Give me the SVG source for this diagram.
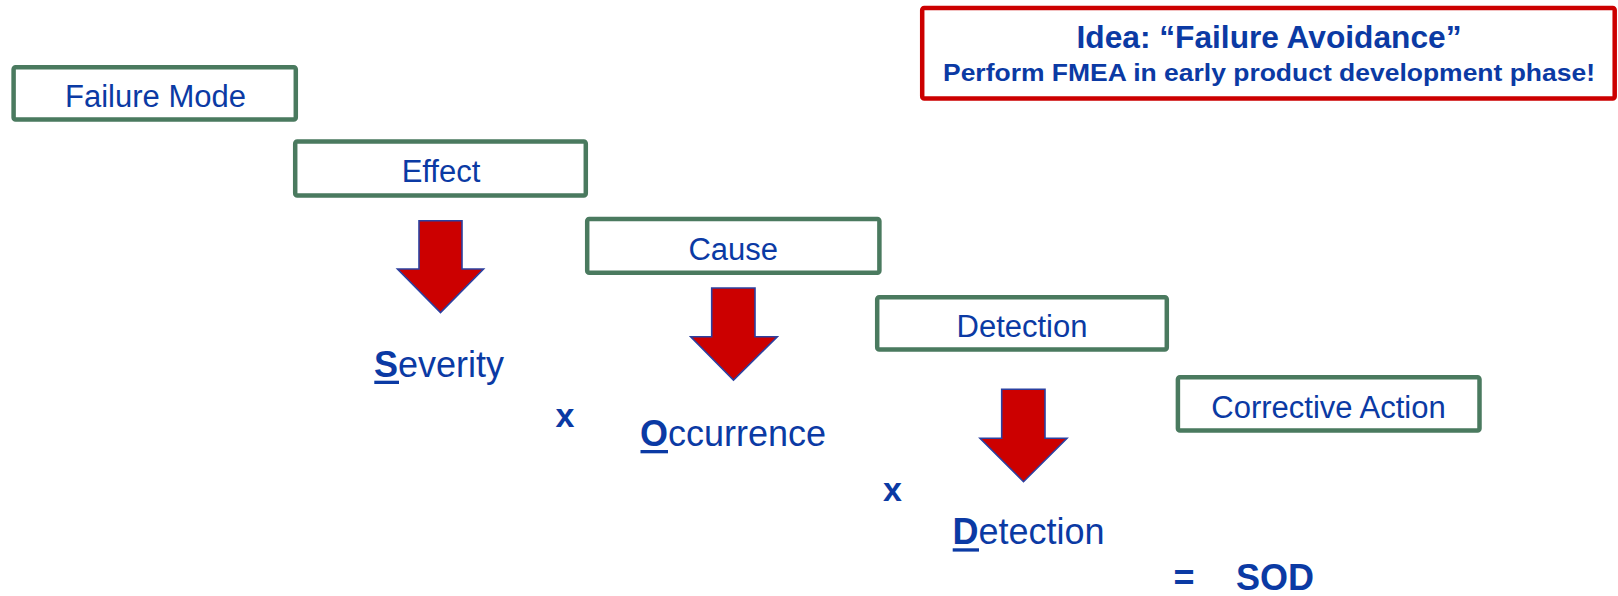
<svg xmlns="http://www.w3.org/2000/svg" width="1618" height="596" viewBox="0 0 1618 596">
  <style>
    .box { fill: #ffffff; stroke: #4a7a5f; stroke-width: 4.5; }
    .lbl { font-family: "Liberation Sans", Arial, sans-serif; font-size: 31px; fill: #0b3aa4; text-anchor: middle; }
    .big { font-family: "Liberation Sans", Arial, sans-serif; font-size: 36px; fill: #0b3aa4; }
    .op { font-family: "Liberation Sans", Arial, sans-serif; font-weight: bold; fill: #0b3aa4; }
    .arrow { fill: #cc0000; stroke: #2b40a0; stroke-width: 1.6; stroke-linejoin: miter; }
    .idea { fill: #ffffff; stroke: #cc0000; stroke-width: 4.5; }
    .ideat { font-family: "Liberation Sans", Arial, sans-serif; font-weight: bold; fill: #0b3aa4; text-anchor: middle; }
    .ul { fill: #0b3aa4; }
  </style>

  <g id="idea">
    <rect class="idea" x="922.2" y="8" width="692.5" height="90.5" rx="2"/>
    <text class="ideat" x="1269" y="48.3" font-size="30.5" textLength="385" lengthAdjust="spacingAndGlyphs">Idea: “Failure Avoidance”</text>
    <text class="ideat" x="1269" y="81" font-size="24.5" textLength="652" lengthAdjust="spacingAndGlyphs">Perform FMEA in early product development phase!</text>
  </g>

  <g id="failure-mode">
    <rect class="box" x="13.6" y="67.2" width="282.2" height="52.3" rx="2"/>
    <text class="lbl" x="155.5" y="106.5">Failure Mode</text>
  </g>

  <g id="effect">
    <rect class="box" x="295.2" y="141.5" width="290.6" height="54" rx="2"/>
    <text class="lbl" x="441" y="181.7">Effect</text>
  </g>

  <g id="cause">
    <rect class="box" x="587.2" y="219" width="292.2" height="53.8" rx="2"/>
    <text class="lbl" x="733.3" y="260">Cause</text>
  </g>

  <g id="detection-box">
    <rect class="box" x="877.2" y="297.2" width="289.6" height="52.3" rx="2"/>
    <text class="lbl" x="1022" y="336.7">Detection</text>
  </g>

  <g id="corrective-action">
    <rect class="box" x="1177.9" y="377.2" width="301.6" height="53.3" rx="2"/>
    <text class="lbl" x="1328.5" y="417.7">Corrective Action</text>
  </g>

  <g id="connectors">
    <polygon class="arrow" points="419,220.7 462,220.7 462,269 483.5,269 440.5,312.5 397.5,269 419,269"/>
    <polygon class="arrow" points="711.7,288 755,288 755,336.7 777.3,336.7 733.5,380 690.7,336.7 711.7,336.7"/>
    <polygon class="arrow" points="1001.7,389.3 1045,389.3 1045,438.3 1067,438.3 1023.5,481.7 980,438.3 1001.7,438.3"/>
  </g>

  <g id="severity">
    <text class="big" x="374" y="376.7"><tspan font-weight="bold">S</tspan>everity</text>
    <rect class="ul" x="374.3" y="380.7" width="24.7" height="3.3"/>
  </g>

  <g id="occurrence">
    <text class="big" x="640" y="446"><tspan font-weight="bold">O</tspan>ccurrence</text>
    <rect class="ul" x="640.5" y="450" width="27.5" height="3.3"/>
  </g>

  <g id="detection">
    <text class="big" x="952.5" y="544"><tspan font-weight="bold">D</tspan>etection</text>
    <rect class="ul" x="952.7" y="548.3" width="26.3" height="3.3"/>
  </g>

  <g id="operators">
    <text class="op" x="555.5" y="427.3" font-size="34">x</text>
    <text class="op" x="883" y="500.7" font-size="34">x</text>
    <text class="op" x="1173.5" y="590" font-size="36">=</text>
    <text class="op" x="1236" y="590" font-size="36">SOD</text>
  </g>
</svg>
